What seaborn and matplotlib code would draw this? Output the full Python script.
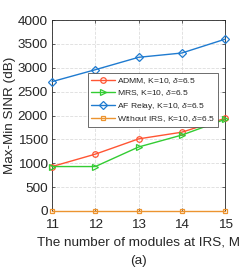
import numpy as np
import pandas as pd
import seaborn as sns
import matplotlib.pyplot as plt

# Data
modules = [11, 12, 13, 14, 15]
admm = [930, 1190, 1510, 1650, 1940]
mrs = [930, 930, 1340, 1590, 1920]
af_relay = [2710, 2960, 3220, 3310, 3600]
without_irs = [0, 0, 0, 0, 0]

labels = [r"ADMM, K=10, $\delta$=6.5", r"MRS, K=10, $\delta$=6.5",
          r"AF Relay, K=10, $\delta$=6.5", r"Without IRS, K=10, $\delta$=6.5"]
colors = ["#FF5533", "#33CC33", "#1F7BD0", "#EC9430"]
markers = ["o", ">", "D", "s"]
msizes = [4.0, 4.0, 3.6, 3.4]

sns.set_theme(style="ticks")
plt.rcParams['font.family'] = ['Liberation Sans', 'DejaVu Sans']
plt.rcParams['mathtext.fontset'] = 'custom'
plt.rcParams['mathtext.rm'] = 'Liberation Sans'
plt.rcParams['mathtext.it'] = 'Liberation Sans:italic'

fig = plt.figure(figsize=(2.49, 2.68), dpi=100)
ax = fig.add_axes([0.209, 0.213, 0.695, 0.712])

for vals, lab, c, m, ms in zip([admm, mrs, af_relay, without_irs], labels, colors, markers, msizes):
    df = pd.DataFrame({"M": modules, "SINR": vals})
    sns.lineplot(data=df, x="M", y="SINR", ax=ax, color=c, marker=m, markersize=ms,
                 markerfacecolor="none", markeredgecolor=c, markeredgewidth=0.9,
                 linewidth=1.0, label=lab, clip_on=False, zorder=3)

ax.set_xlim(11, 15)
ax.set_ylim(0, 4000)
ax.set_xticks(modules)
ax.set_yticks(np.arange(0, 4001, 500))
ax.grid(True, linestyle="--", color="#DDDDDD", linewidth=0.6)
ax.tick_params(direction="in", labelsize=9.7, length=2.5, width=0.5,
               top=True, right=True, colors="#262626")
ax.tick_params(axis="x", pad=6)
ax.tick_params(axis="y", pad=3)
for s in ax.spines.values():
    s.set_linewidth(0.6)
    s.set_color("#262626")

ax.set_xlabel("The number of modules at IRS, M", fontsize=9.7, labelpad=4, color="#262626")
ax.set_ylabel("Max-Min SINR (dB)", fontsize=9.7, labelpad=1, color="#262626")
fig.text(0.556, 0.026, "(a)", ha="center", va="center", fontsize=9.7, color="#262626")

leg = ax.legend(loc="upper left", bbox_to_anchor=(0.208, 0.722), fontsize=6.1,
                frameon=True, fancybox=False, edgecolor="#333333", framealpha=1,
                handlelength=2.9, handletextpad=0.25, borderpad=0.3, labelspacing=0.3,
                borderaxespad=0)
leg.get_frame().set_linewidth(0.5)

fig.savefig("out.png", dpi=100)
